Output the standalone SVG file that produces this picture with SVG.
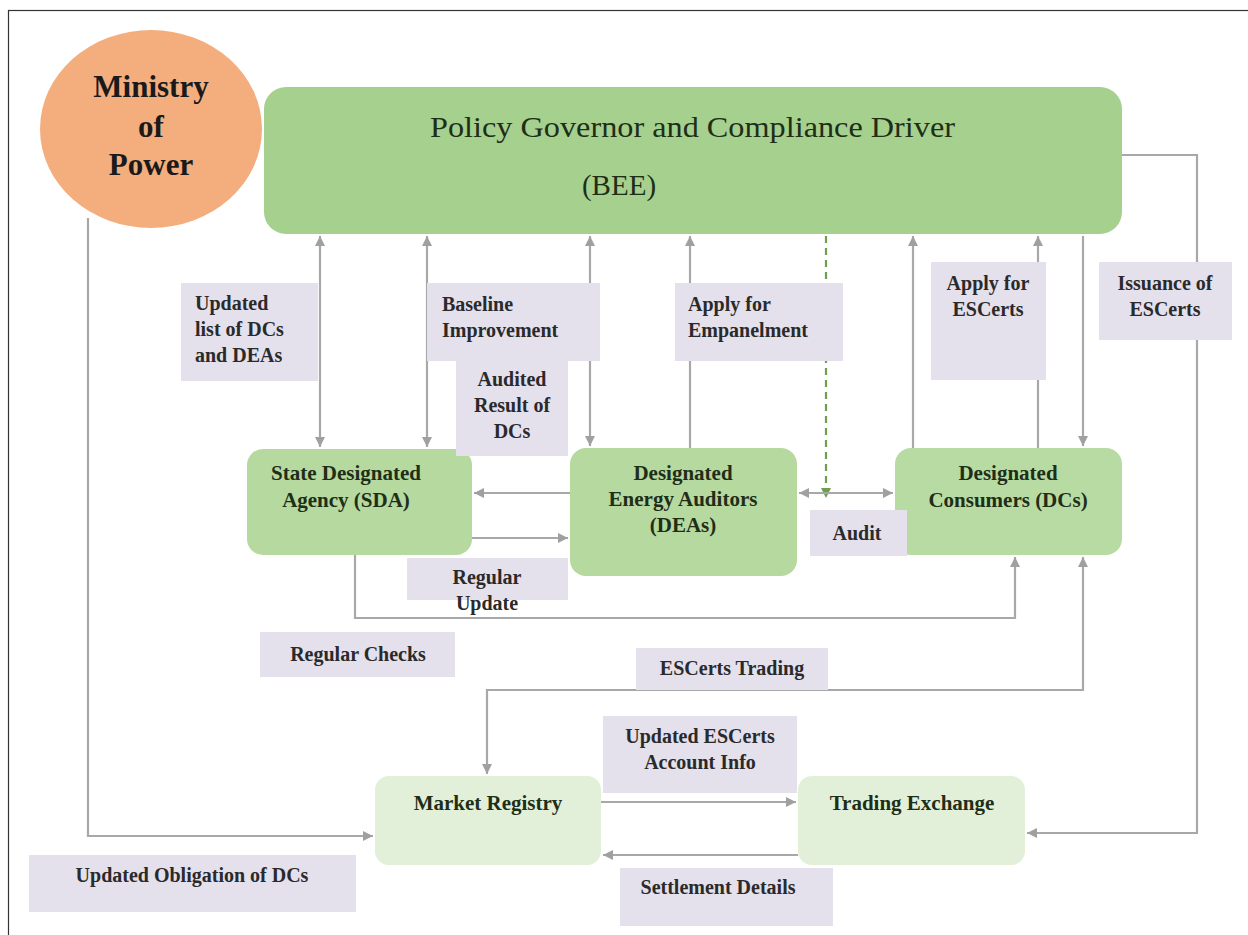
<svg xmlns="http://www.w3.org/2000/svg" width="1248" height="935" viewBox="0 0 1248 935">
<defs>
<style>
.lbl{fill:#E4E0EC}
.lt{font-family:"Liberation Serif",serif;font-weight:bold;font-size:20px;fill:#2a2a2a}
.nt{font-family:"Liberation Serif",serif;font-weight:bold;font-size:21px;fill:#1f2e17}
.c{text-anchor:middle}
.ln{fill:none;stroke:#A8A8A8;stroke-width:2.2}
.arr{marker-end:url(#ah)}
.both{marker-start:url(#ah);marker-end:url(#ah)}
</style>
<marker id="ah" markerUnits="userSpaceOnUse" markerWidth="10" markerHeight="10" refX="10" refY="5" orient="auto-start-reverse" viewBox="0 0 10 10">
<path d="M0,0 L10,5 L0,10 z" fill="#A0A0A0"/>
</marker>
<marker id="ahg" markerUnits="userSpaceOnUse" markerWidth="10" markerHeight="10" refX="10" refY="5" orient="auto" viewBox="0 0 10 10">
<path d="M0,0 L10,5 L0,10 z" fill="#6E9E4E"/>
</marker>
</defs>
<rect x="0" y="0" width="1248" height="935" fill="#fff"/>
<rect x="8.5" y="10.5" width="1250" height="940" fill="none" stroke="#333" stroke-width="1.2"/>

<g id="connectors">
<path class="ln both" d="M320,236 V447"/>
<path class="ln both" d="M427,236 V447"/>
<path class="ln both" d="M590,236 V446"/>
<path class="ln arr" d="M690,448 V236"/>
<path d="M826,236 V498" fill="none" stroke="#6E9E4E" stroke-width="2.2" stroke-dasharray="7,5" marker-end="url(#ahg)"/>
<path class="ln arr" d="M913,448 V236"/>
<path class="ln arr" d="M1038,448 V236"/>
<path class="ln arr" d="M1083,236 V446"/>
<path class="ln arr" d="M1122,155 H1197 V833 H1027"/>
<path class="ln arr" d="M570,493 H474"/>
<path class="ln arr" d="M472,538 H568"/>
<path class="ln both" d="M799,493 H893"/>
<path class="ln arr" d="M355,555 V618 H1015 V557"/>
<path class="ln both" d="M487,774 V690 H1083 V557"/>
<path class="ln arr" d="M88,218 V836 H373"/>
<path class="ln arr" d="M601,802 H796"/>
<path class="ln arr" d="M798,855 H603"/>
</g>

<g id="ministry">
<ellipse cx="151" cy="129" rx="111" ry="99" fill="#F4AE7E"/>
<text class="c" x="151" y="97" font-family="Liberation Serif,serif" font-weight="bold" font-size="31" fill="#1a1a1a">Ministry</text>
<text class="c" x="151" y="137" font-family="Liberation Serif,serif" font-weight="bold" font-size="31" fill="#1a1a1a">of</text>
<text class="c" x="151" y="175" font-family="Liberation Serif,serif" font-weight="bold" font-size="31" fill="#1a1a1a">Power</text>
</g>

<g id="bee">
<rect x="264" y="87" width="858" height="147" rx="22" fill="#A6D08E"/>
<text x="430" y="137" font-family="Liberation Serif,serif" font-size="29" fill="#1f2e17" textLength="525" lengthAdjust="spacingAndGlyphs">Policy Governor and Compliance Driver</text>
<text class="c" x="619" y="195" font-family="Liberation Serif,serif" font-size="29" fill="#1f2e17">(BEE)</text>
</g>

<g id="sda">
<rect x="247" y="449" width="225" height="106" rx="16" fill="#B5D99F"/>
<text class="nt c" x="346" y="480">State Designated</text>
<text class="nt c" x="346" y="507">Agency (SDA)</text>
</g>

<g id="dea">
<rect x="570" y="448" width="227" height="128" rx="16" fill="#B5D99F"/>
<text class="nt c" x="683" y="480">Designated</text>
<text class="nt c" x="683" y="506">Energy Auditors</text>
<text class="nt c" x="683" y="532">(DEAs)</text>
</g>

<g id="dc">
<rect x="895" y="448" width="227" height="107" rx="16" fill="#B8DBA3"/>
<text class="nt c" x="1008" y="480">Designated</text>
<text class="nt c" x="1008" y="507">Consumers (DCs)</text>
</g>

<g id="market-registry">
<rect x="375" y="776" width="226" height="89" rx="14" fill="#E2F0D9"/>
<text class="nt c" x="488" y="810">Market Registry</text>
</g>

<g id="trading-exchange">
<rect x="798" y="776" width="227" height="89" rx="14" fill="#E2F0D9"/>
<text class="nt c" x="912" y="810">Trading Exchange</text>
</g>

<g id="lbl-updated-list">
<rect class="lbl" x="181" y="283" width="137" height="98"/>
<text class="lt" x="195" y="310">Updated</text>
<text class="lt" x="195" y="336">list of DCs</text>
<text class="lt" x="195" y="362">and DEAs</text>
</g>
<g id="lbl-baseline">
<rect class="lbl" x="427" y="283" width="173" height="78"/>
<text class="lt" x="442" y="311">Baseline</text>
<text class="lt" x="442" y="337">Improvement</text>
</g>
<g id="lbl-audited">
<rect class="lbl" x="456" y="361" width="112" height="95"/>
<text class="lt c" x="512" y="386">Audited</text>
<text class="lt c" x="512" y="412">Result of</text>
<text class="lt c" x="512" y="438">DCs</text>
</g>
<g id="lbl-empanelment">
<rect class="lbl" x="675" y="283" width="168" height="78"/>
<text class="lt" x="688" y="311">Apply for</text>
<text class="lt" x="688" y="337">Empanelment</text>
</g>
<g id="lbl-apply-escerts">
<rect class="lbl" x="931" y="262" width="115" height="118"/>
<text class="lt c" x="988" y="290">Apply for</text>
<text class="lt c" x="988" y="316">ESCerts</text>
</g>
<g id="lbl-issuance">
<rect class="lbl" x="1099" y="262" width="133" height="78"/>
<text class="lt c" x="1165" y="290">Issuance of</text>
<text class="lt c" x="1165" y="316">ESCerts</text>
</g>
<g id="lbl-audit">
<rect class="lbl" x="810" y="510" width="97" height="46"/>
<text class="lt c" x="857" y="540">Audit</text>
</g>
<g id="lbl-regular-update">
<rect class="lbl" x="407" y="558" width="161" height="42"/>
<text class="lt c" x="487" y="584">Regular</text>
<text class="lt c" x="487" y="610">Update</text>
</g>
<g id="lbl-regular-checks">
<rect class="lbl" x="260" y="632" width="195" height="45"/>
<text class="lt c" x="358" y="661">Regular Checks</text>
</g>
<g id="lbl-escerts-trading">
<rect class="lbl" x="636" y="648" width="192" height="42"/>
<text class="lt c" x="732" y="675">ESCerts Trading</text>
</g>
<g id="lbl-account-info">
<rect class="lbl" x="603" y="716" width="194" height="77"/>
<text class="lt c" x="700" y="743">Updated ESCerts</text>
<text class="lt c" x="700" y="769">Account Info</text>
</g>
<g id="lbl-obligation">
<rect class="lbl" x="29" y="855" width="327" height="57"/>
<text class="lt c" x="192" y="882">Updated Obligation of DCs</text>
</g>
<g id="lbl-settlement">
<rect class="lbl" x="620" y="868" width="213" height="58"/>
<text class="lt c" x="718" y="894">Settlement Details</text>
</g>
</svg>
